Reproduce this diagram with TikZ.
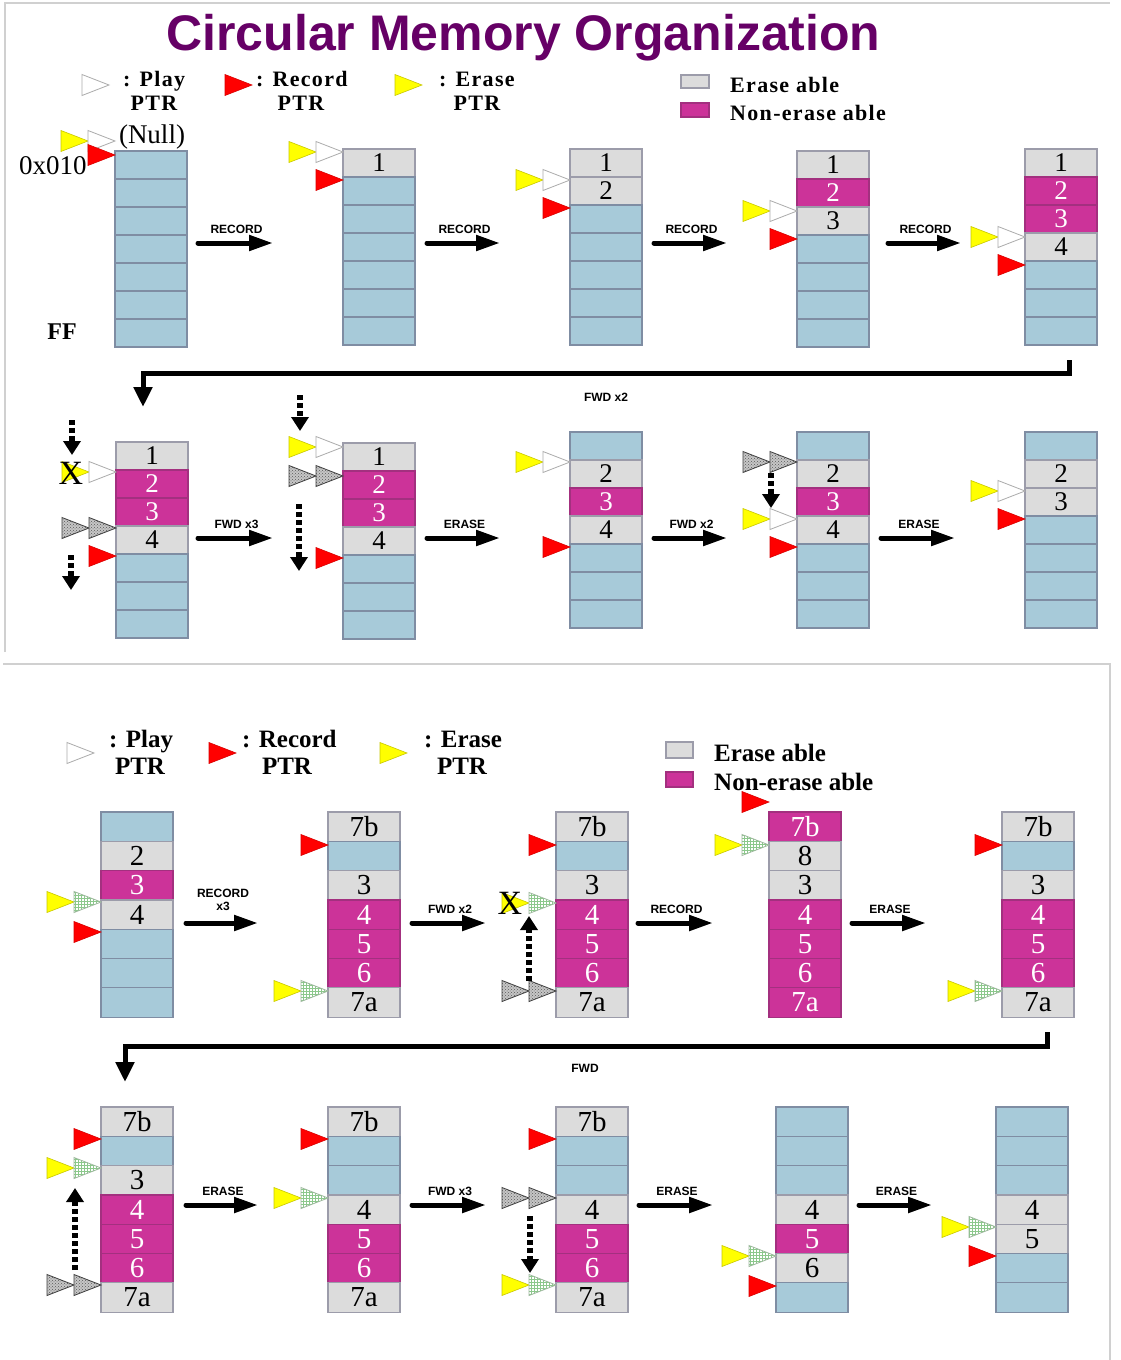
\documentclass[tikz,border=0pt]{standalone}
\usepackage{fontspec}
\setmainfont{Liberation Serif}
\newfontfamily\lsans{Liberation Sans}
\newfontfamily\spserif{Liberation Serif}[LetterSpace=6]
\usetikzlibrary{arrows.meta,patterns}
\definecolor{cblue}{HTML}{A7CAD9}
\definecolor{cbord}{HTML}{7F8DA3}
\definecolor{cgray}{HTML}{DCDCDC}
\definecolor{cgbord}{HTML}{9C9CAA}
\definecolor{cmag}{HTML}{CC3399}
\definecolor{cmbord}{HTML}{A3307F}
\definecolor{tpurple}{HTML}{660066}
\definecolor{cyel}{HTML}{FFFF00}
\definecolor{cyelb}{HTML}{C8C800}
\definecolor{cframe}{HTML}{D0D0D0}
\definecolor{cgrn}{HTML}{8CC88C}
\definecolor{cgrnb}{HTML}{9CB89C}
\newcommand\digfont{\fontsize{27}{27}\selectfont}
\tikzset{
 cellb/.style={fill=cblue,draw=cbord,line width=1.2pt},
 cellg/.style={fill=cgray,draw=cgbord,line width=1.2pt},
 cellm/.style={fill=cmag,draw=cmbord,line width=1.2pt},
 txtb/.style={font=\digfont,inner sep=0pt},
 txtg/.style={font=\digfont,inner sep=0pt,text=black},
 txtm/.style={font=\digfont,inner sep=0pt,text=white},
 ptrred/.style={fill=red,draw=red!85!black,line width=0.6pt},
 ptryel/.style={fill=cyel,draw=cyelb,line width=0.6pt},
 ptrwht/.style={fill=white,draw=gray!65,line width=0.8pt},
 ptrgry/.style={preaction={fill=gray!45},pattern=crosshatch dots,pattern color=black!65,draw=black!75,line width=0.8pt},
 ptrgrn/.style={preaction={fill=white},pattern=grid,pattern color=cgrn,draw=cgrnb,line width=0.8pt},
 blk/.style={line width=5pt,line cap=round,-{Triangle[length=24pt,width=15pt]}},
 ret/.style={line width=5pt,line join=miter,-{Triangle[length=20pt,width=18pt]}},
 dsh/.style={line width=5.5pt,dash pattern=on 5pt off 3pt,-{Triangle[length=14pt,width=17pt]}},
 albl/.style={font=\lsans\bfseries\fontsize{12}{13}\selectfont,inner sep=0pt,align=center},
 legt/.style={font=\spserif\bfseries\fontsize{22}{22}\selectfont,inner sep=0pt},
 legb/.style={font=\bfseries\fontsize{25}{25}\selectfont,inner sep=0pt},
 xmark/.style={font=\fontsize{34}{34}\selectfont,inner sep=0pt},
 plain/.style={font=\fontsize{27}{27}\selectfont,inner sep=0pt},
 frame/.style={draw=cframe,line width=1.5pt}
}
\newcommand\memcol[4]{%
 \foreach \ct/\cl [count=\ci] in {#4} {
   \draw[cell\ct] (#1,{#2+(\ci-1)*#3}) rectangle ++(72,#3);
   \node[txt\ct] at ({#1+36},{#2+(\ci-0.5)*#3}) {\cl};
 }}
\newcommand\ptri[3]{\draw[#1] (#2,#3) -- ++(-27,-10.5) -- ++(0,21) -- cycle;}
\newcommand\ptrpair[4]{\ptri{#1}{#3-27}{#4}\ptri{#2}{#3}{#4}}
\newcommand\steparrow[5]{%
 \coordinate (#1s) at (#2,#4);
 \coordinate (#1e) at (#3,#4);
 \draw[blk] (#1s) -- (#1e);
 \node[albl,anchor=base] (#1l) at ({(#2+#3)/2+1},{#4-10}) {#5};}
\newcommand\dasharrow[5]{%
 \coordinate (#1a) at (#2,#3);
 \coordinate (#1b) at (#4,#5);
 \draw[dsh] (#1a) -- (#1b);}
\begin{document}
\begin{tikzpicture}[x=1pt,y=-1pt]
\useasboundingbox (0,0) rectangle (1120,1360);
\fill[white] (0,0) rectangle (1120,1360);
% frames
\draw[frame] (5,652) -- (5,3) -- (1110,3);
\draw[frame] (3,664) -- (1110,664) -- (1110,1360);
% title
\node[font=\lsans\bfseries\fontsize{50}{50}\selectfont,text=tpurple,anchor=base,inner sep=0pt] (title) at (523.5,50) {Circular Memory Organization};
% ---------- top legend
\ptri{ptrwht}{109}{85}
\node[legt,anchor=base west] (tl1) at (123,86) {: Play};
\node[legt,anchor=base] (tl2) at (154,110) {PTR};
\ptri{ptrred}{252}{85}
\node[legt,anchor=base west] (tl3) at (256,86) {: Record};
\node[legt,anchor=base] (tl4) at (301,110) {PTR};
\ptri{ptryel}{422}{85}
\node[legt,anchor=base west] (tl5) at (439,86) {: Erase};
\node[legt,anchor=base] (tl6) at (477,110) {PTR};
\draw[cellg] (681,75) rectangle (709,88);
\draw[cellm] (681,103) rectangle (709,117);
\node[legt,anchor=base west] (tl7) at (730,92) {Erase able};
\node[legt,anchor=base west] (tl8) at (730,120) {Non-erase able};
% ---------- row 1
\memcol{115}{151}{28}{b/{},b/{},b/{},b/{},b/{},b/{},b/{}}
\memcol{343}{149}{28}{g/1,b/{},b/{},b/{},b/{},b/{},b/{}}
\memcol{570}{149}{28}{g/1,g/2,b/{},b/{},b/{},b/{},b/{}}
\memcol{797}{151}{28}{g/1,m/2,g/3,b/{},b/{},b/{},b/{}}
\memcol{1025}{149}{28}{g/1,m/2,m/3,g/4,b/{},b/{},b/{}}
\node[plain] (null) at (152,137) {(Null)};
\node[plain] (addr) at (53,166) {0x010};
\node[font=\bfseries\fontsize{24}{24}\selectfont,inner sep=0pt] (ff) at (62,332) {FF};
\ptrpair{ptryel}{ptrwht}{115}{141}\ptri{ptrred}{115}{155}
\ptrpair{ptryel}{ptrwht}{343}{152}\ptri{ptrred}{343}{180}
\ptrpair{ptryel}{ptrwht}{570}{180}\ptri{ptrred}{570}{208}
\ptrpair{ptryel}{ptrwht}{797}{211}\ptri{ptrred}{797}{239}
\ptrpair{ptryel}{ptrwht}{1025}{237}\ptri{ptrred}{1025}{265}
\steparrow{a1}{198}{273}{243}{RECORD}
\steparrow{a2}{427}{500}{243}{RECORD}
\steparrow{a3}{654}{727}{243}{RECORD}
\steparrow{a4}{888}{961}{243}{RECORD}
% return arrow 1
\coordinate (r1a) at (1069,360);
\coordinate (r1b) at (1069,373);
\coordinate (r1c) at (143,373);
\coordinate (r1d) at (143,407);
\draw[ret] (r1a) -- (r1b) -- (r1c) -- (r1d);
\node[albl] (r1l) at (606,397) {FWD x2};
% ---------- row 2
\memcol{116}{442}{28}{g/1,m/2,m/3,g/4,b/{},b/{},b/{}}
\memcol{343}{443}{28}{g/1,m/2,m/3,g/4,b/{},b/{},b/{}}
\memcol{570}{432}{28}{b/{},g/2,m/3,g/4,b/{},b/{},b/{}}
\memcol{797}{432}{28}{b/{},g/2,m/3,g/4,b/{},b/{},b/{}}
\memcol{1025}{432}{28}{b/{},g/2,g/3,b/{},b/{},b/{},b/{}}
% col F
\ptrpair{ptryel}{ptrwht}{116}{472}
\node[xmark] (x1) at (71,473) {X};
\ptrpair{ptrgry}{ptrgry}{116}{528}
\ptri{ptrred}{116}{556}
\dasharrow{d1}{72}{420}{72}{455}
\dasharrow{d2}{71}{555}{71}{590}
% col G
\ptrpair{ptryel}{ptrwht}{343}{447}
\ptrpair{ptrgry}{ptrgry}{343}{476}
\ptri{ptrred}{343}{558}
\dasharrow{d3}{300}{395}{300}{431}
\dasharrow{d4}{299}{504}{299}{571}
% col H
\ptrpair{ptryel}{ptrwht}{570}{462}
\ptri{ptrred}{570}{547}
% col I
\ptrpair{ptrgry}{ptrgry}{797}{462}
\ptrpair{ptryel}{ptrwht}{797}{519}
\ptri{ptrred}{797}{547}
\dasharrow{d5}{771}{473}{771}{508}
% col J
\ptrpair{ptryel}{ptrwht}{1025}{491}
\ptri{ptrred}{1025}{519}
\steparrow{b1}{198}{273}{538}{FWD x3}
\steparrow{b2}{427}{500}{538}{ERASE}
\steparrow{b3}{654}{727}{538}{FWD x2}
\steparrow{b4}{881}{955}{538}{ERASE}
% ---------- bottom legend
\ptri{ptrwht}{94}{753}
\node[legb,anchor=base west] (bl1) at (109,747) {: Play};
\node[legb,anchor=base] (bl2) at (140,774) {PTR};
\ptri{ptrred}{236}{753}
\node[legb,anchor=base west] (bl3) at (242,747) {: Record};
\node[legb,anchor=base] (bl4) at (287,774) {PTR};
\ptri{ptryel}{407}{753}
\node[legb,anchor=base west] (bl5) at (424,747) {: Erase};
\node[legb,anchor=base] (bl6) at (462,774) {PTR};
\draw[cellg] (666,742) rectangle (693,758);
\draw[cellm] (666,772) rectangle (693,787);
\node[legb,anchor=base west] (bl7) at (714,761) {Erase able};
\node[legb,anchor=base west] (bl8) at (714,790) {Non-erase able};
% ---------- row 3
\renewcommand\digfont{\fontsize{29}{29}\selectfont}
\memcol{101}{812}{29.3}{b/{},g/2,m/3,g/4,b/{},b/{},b/{}}
\memcol{328}{812}{29.3}{g/7b,b/{},g/3,m/4,m/5,m/6,g/7a}
\memcol{556}{812}{29.3}{g/7b,b/{},g/3,m/4,m/5,m/6,g/7a}
\memcol{769}{812}{29.3}{m/7b,g/8,g/3,m/4,m/5,m/6,m/7a}
\memcol{1002}{812}{29.3}{g/7b,b/{},g/3,m/4,m/5,m/6,g/7a}
% K
\ptrpair{ptryel}{ptrgrn}{101}{902}
\ptri{ptrred}{101}{932}
% L
\ptri{ptrred}{328}{845}
\ptrpair{ptryel}{ptrgrn}{328}{991}
% M
\ptri{ptrred}{556}{845}
\ptrpair{ptryel}{ptrgrn}{556}{903}
\node[xmark] (x2) at (510,903) {X};
\ptrpair{ptrgry}{ptrgry}{556}{991}
\dasharrow{d6}{529}{981}{529}{916}
% N
\ptri{ptrred}{769}{802}
\ptrpair{ptryel}{ptrgrn}{769}{845}
% O
\ptri{ptrred}{1002}{845}
\ptrpair{ptryel}{ptrgrn}{1002}{991}
\coordinate (c1s) at (186,923);
\coordinate (c1e) at (258,923);
\draw[blk] (c1s) -- (c1e);
\node[albl] (c1l) at (223,900) {RECORD\\x3};
\steparrow{c2}{412}{486}{923}{FWD x2}
\steparrow{c3}{638}{713}{923}{RECORD}
\steparrow{c4}{852}{926}{923}{ERASE}
% return arrow 2
\coordinate (r2a) at (1047,1032);
\coordinate (r2b) at (1047,1046);
\coordinate (r2c) at (125,1046);
\coordinate (r2d) at (125,1082);
\draw[ret] (r2a) -- (r2b) -- (r2c) -- (r2d);
\node[albl] (r2l) at (585,1068) {FWD};
% ---------- row 4
\memcol{101}{1107}{29.3}{g/7b,b/{},g/3,m/4,m/5,m/6,g/7a}
\memcol{328}{1107}{29.3}{g/7b,b/{},b/{},g/4,m/5,m/6,g/7a}
\memcol{556}{1107}{29.3}{g/7b,b/{},b/{},g/4,m/5,m/6,g/7a}
\memcol{776}{1107}{29.3}{b/{},b/{},b/{},g/4,m/5,g/6,b/{}}
\memcol{996}{1107}{29.3}{b/{},b/{},b/{},g/4,g/5,b/{},b/{}}
% P
\ptri{ptrred}{101}{1139}
\ptrpair{ptryel}{ptrgrn}{101}{1168}
\ptrpair{ptrgry}{ptrgry}{101}{1285}
\dasharrow{d7}{75}{1270}{75}{1188}
% Q
\ptri{ptrred}{328}{1139}
\ptrpair{ptryel}{ptrgrn}{328}{1198}
% R
\ptri{ptrred}{556}{1139}
\ptrpair{ptrgry}{ptrgry}{556}{1198}
\ptrpair{ptryel}{ptrgrn}{556}{1285}
\dasharrow{d8}{530}{1216}{530}{1273}
% S
\ptrpair{ptryel}{ptrgrn}{776}{1256}
\ptri{ptrred}{776}{1286}
% T
\ptrpair{ptryel}{ptrgrn}{996}{1227}
\ptri{ptrred}{996}{1256}
\steparrow{e1}{186}{258}{1205}{ERASE}
\steparrow{e2}{412}{486}{1205}{FWD x3}
\steparrow{e3}{639}{713}{1205}{ERASE}
\steparrow{e4}{859}{932}{1205}{ERASE}
\end{tikzpicture}
\end{document}
